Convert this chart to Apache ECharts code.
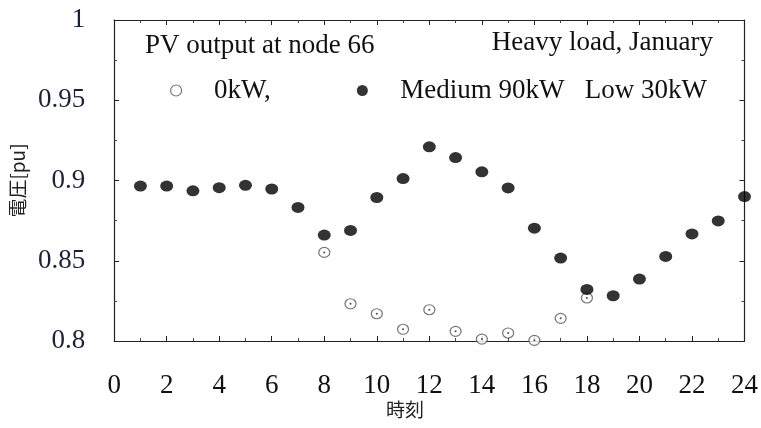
<!DOCTYPE html>
<html lang="ja">
<head>
    <meta charset="UTF-8">
    <title>PV output at node 66</title>
    <style type="text/css">
        *{
            margin: 0;
            padding: 0;
        }
        #main{
            width: 761px;
            height: 428px;
            background: #fff;
        }
    </style>
</head>
<body>
    <div id="main"></div>
    <script src="https://cdn.jsdelivr.net/npm/echarts@6/dist/echarts.min.js"></script>
    <script type="text/javascript">
        // 時刻 (hour)
        var hours = [1, 2, 3, 4, 5, 6, 7, 8, 9, 10, 11, 12, 13, 14, 15, 16, 17, 18, 19, 20, 21, 22, 23, 24];
        // Medium 90kW / Low 30kW
        var medium = [0.8965, 0.8965, 0.8936, 0.8955, 0.897, 0.8947, 0.8832, 0.866, 0.8689, 0.8894, 0.9012, 0.921,
            0.9143, 0.9054, 0.8954, 0.8703, 0.8517, 0.8321, 0.8282, 0.8386, 0.8527, 0.8667, 0.8748, 0.89];
        // 0kW (only the visible ones)
        var zeroHours = [8, 9, 10, 11, 12, 13, 14, 15, 16, 17, 18];
        var zeroKW = [0.8552, 0.8232, 0.817, 0.8073, 0.8195, 0.806, 0.8012, 0.805, 0.8004, 0.8141, 0.8268];
        var xTicks = ['0', '2', '4', '6', '8', '10', '12', '14', '16', '18', '20', '22', '24'];

        var serif = '"Liberation Serif", "DejaVu Serif", serif';
        var cjk = '"Noto Sans CJK JP", sans-serif';

        var mediumData = hours.map(function (h, i) { return [h, medium[i]]; });
        var zeroData = zeroHours.map(function (h, i) { return [h, zeroKW[i]]; });

        var myChart = echarts.init(document.getElementById('main'));

        //共通の軸スタイル
        var boxLine = { show: true, onZero: false, lineStyle: { color: '#222', width: 1.2 } };
        var innerTick = { show: true, inside: true, length: 5, lineStyle: { color: '#222' } };
        var innerMinor = { show: true, splitNumber: 2, length: 3, lineStyle: { color: '#444' } };

        var option = {
            animation: false,
            backgroundColor: '#fff',
            grid: {
                left: 113,
                right: 14,
                top: 20,
                bottom: 87
            },
            graphic: [{
                type: 'text',
                left: 145,
                top: 32,
                style: { text: 'PV output at node 66', font: '27px ' + serif, fill: '#111' }
            }, {
                type: 'text',
                right: 48,
                top: 29,
                style: { text: 'Heavy load, January', font: '27px ' + serif, fill: '#111' }
            }, {
                type: 'text',
                left: 386,
                top: 400,
                style: { text: '時刻', font: '19px ' + cjk, fill: '#222' }
            }],
            legend: {
                left: 165,
                top: 72,
                itemGap: 86,
                itemWidth: 12,
                itemHeight: 11,
                textStyle: {
                    fontFamily: serif,
                    fontSize: 27,
                    color: '#111',
                    padding: [0, 0, 0, 27]
                },
                data: [
                    { name: '0kW,', icon: 'circle', itemStyle: { color: '#fff', borderColor: '#555', borderWidth: 1.2 } },
                    { name: 'Medium 90kW   Low 30kW', icon: 'circle', itemStyle: { color: '#000' } }
                ]
            },
            xAxis: [{
                type: 'value',
                min: 0,
                max: 24,
                interval: 2,
                axisLine: boxLine,
                axisTick: innerTick,
                minorTick: innerMinor,
                splitLine: { show: false },
                axisLabel: {
                    margin: 31,
                    fontFamily: serif,
                    fontSize: 27,
                    color: '#111',
                    formatter: function (v) { return xTicks[v / 2]; }
                }
            }, {
                type: 'value',
                position: 'top',
                min: 0,
                max: 24,
                interval: 2,
                axisLine: boxLine,
                axisTick: innerTick,
                minorTick: innerMinor,
                splitLine: { show: false },
                axisLabel: { show: false }
            }],
            yAxis: [{
                type: 'value',
                min: 0.8,
                max: 1,
                interval: 0.05,
                name: '電圧[pu]',
                nameLocation: 'middle',
                nameRotate: 90,
                nameGap: 85,
                nameTextStyle: { fontFamily: cjk, fontSize: 19, color: '#222' },
                axisLine: boxLine,
                axisTick: innerTick,
                minorTick: innerMinor,
                splitLine: { show: false },
                axisLabel: {
                    margin: 29,
                    fontFamily: serif,
                    fontSize: 27,
                    color: '#1c2233',
                    formatter: function (v) { return String(+v.toFixed(2)); }
                }
            }, {
                type: 'value',
                position: 'right',
                min: 0.8,
                max: 1,
                interval: 0.05,
                axisLine: boxLine,
                axisTick: innerTick,
                minorTick: innerMinor,
                splitLine: { show: false },
                axisLabel: { show: false }
            }],
            series: [{
                name: '0kW,',
                type: 'scatter',
                data: zeroData,
                symbol: 'circle',
                symbolSize: [11, 10],
                itemStyle: { color: '#fff', borderColor: '#555', borderWidth: 1.2 },
                z: 2
            }, {
                // 白丸の中心の点
                name: 'dot',
                type: 'scatter',
                data: zeroData,
                symbol: 'circle',
                symbolSize: 2,
                itemStyle: { color: '#222' },
                silent: true,
                z: 3
            }, {
                name: 'Medium 90kW   Low 30kW',
                type: 'scatter',
                data: mediumData,
                symbol: 'circle',
                symbolSize: [13, 11],
                itemStyle: { color: '#000' },
                z: 4
            }]
        };

        myChart.setOption(option);
    </script>
</body>
</html>
